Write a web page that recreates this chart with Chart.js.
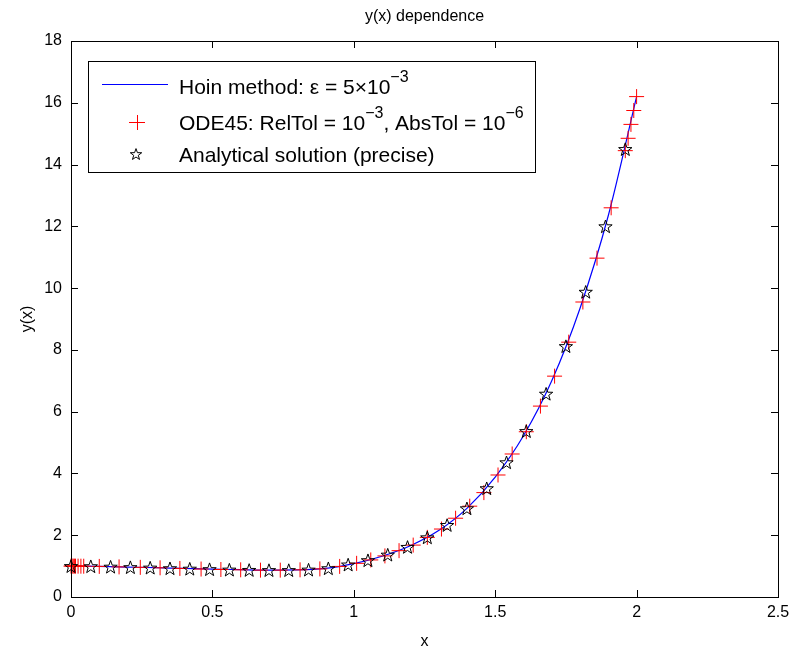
<!DOCTYPE html>
<html>
<head>
<meta charset="utf-8">
<script src="https://cdn.jsdelivr.net/npm/chart.js@4.4.0/dist/chart.umd.min.js"></script>
<style>body{margin:0;background:#fff}</style>
</head>
<body>
<canvas id="myChart" width="796" height="655"></canvas>
<script>
var titleText = 'y(x) dependence';
var xTicks = [0, 0.5, 1, 1.5, 2, 2.5];
var yTicks = [0, 2, 4, 6, 8, 10, 12, 14, 16, 18];

// Hoin method (solid blue line)
var hoinX = [0, 0.1, 0.2, 0.3, 0.4, 0.5, 0.6, 0.7, 0.8, 0.9, 1.0, 1.1, 1.2, 1.3, 1.4, 1.5, 1.6, 1.7, 1.8, 1.9, 2.0];
var hoinY = [1.0, 0.99, 0.97, 0.95, 0.925, 0.905, 0.885, 0.87, 0.875, 0.925, 1.08, 1.32, 1.66, 2.15, 2.87, 3.88, 5.22, 7.0, 9.35, 12.35, 16.2];

// ODE45 output (red plus)
var odeX = [0, 0.004, 0.008, 0.012, 0.016, 0.025, 0.035, 0.045, 0.1, 0.17, 0.245, 0.315, 0.385, 0.46, 0.53, 0.6, 0.67, 0.74, 0.81, 0.88, 0.95,
            1.01, 1.06, 1.11, 1.16, 1.21, 1.26, 1.31, 1.36, 1.41, 1.46, 1.51, 1.56, 1.61, 1.66, 1.71, 1.76, 1.81, 1.86, 1.91, 1.96, 1.97, 1.98, 1.99, 2.0];
var odeY = [1.0, 1.0, 1.0, 1.0, 0.999, 0.999, 0.998, 0.997, 0.99, 0.975, 0.96, 0.945, 0.925, 0.905, 0.89, 0.88, 0.87, 0.87, 0.88, 0.91, 0.99,
            1.09, 1.2, 1.33, 1.5, 1.68, 1.93, 2.2, 2.55, 2.94, 3.38, 3.95, 4.63, 5.35, 6.18, 7.15, 8.25, 9.55, 10.97, 12.6, 14.45, 14.85, 15.3, 15.75, 16.2];

// analytical solution (black pentagram)
var starX = [0, 0.07, 0.14, 0.21, 0.28, 0.35, 0.42, 0.49, 0.56, 0.63, 0.7, 0.77, 0.84, 0.91, 0.98,
             1.05, 1.12, 1.19, 1.26, 1.33, 1.4, 1.47, 1.54, 1.61, 1.68, 1.75, 1.82, 1.89, 1.96];
var starY = [1.0, 0.995, 0.98, 0.965, 0.95, 0.93, 0.915, 0.9, 0.885, 0.875, 0.87, 0.87, 0.885, 0.93, 1.05,
             1.19, 1.37, 1.62, 1.93, 2.33, 2.87, 3.52, 4.36, 5.37, 6.58, 8.12, 9.88, 12.0, 14.5];

function pts(xs, ys) { return xs.map(function (v, i) { return {x: v, y: ys[i]}; }); }

var FONT = "'Liberation Sans', Arial, sans-serif";

function pentagram(ctx, cx, cy, R) {
    cy += R * 0.1;
    ctx.beginPath();
    for (var i = 0; i < 10; i++) {
        var r = i % 2 ? R * 0.4 : R;
        var a = -Math.PI / 2 + i * Math.PI / 5;
        ctx.lineTo(cx + r * Math.cos(a), cy + r * Math.sin(a));
    }
    ctx.closePath();
    ctx.stroke();
}

function drawRich(ctx, parts, x, y) {
    parts.forEach(function (p) {
        if (p.sup) {
            ctx.font = '16px ' + FONT;
            ctx.fillText(p.t, x, y - 12);
        } else {
            ctx.font = '21px ' + FONT;
            ctx.fillText(p.t, x, y);
        }
        x += ctx.measureText(p.t).width;
    });
}

var frame = {
    id: 'frame',
    afterDatasetsDraw: function (chart) {
        var ctx = chart.ctx, a = chart.chartArea, xs = chart.scales.x, ys = chart.scales.y;
        ctx.save();
        // stars of the analytical solution, at the positions the scales give
        ctx.strokeStyle = '#000';
        ctx.lineWidth = 1;
        chart.getDatasetMeta(0).data.forEach(function (el) { pentagram(ctx, el.x, el.y, 7); });

        ctx.beginPath();
        xTicks.forEach(function (v) {
            var p = Math.round(xs.getPixelForValue(v)) + 0.5;
            ctx.moveTo(p, a.bottom); ctx.lineTo(p, a.bottom - 7);
            ctx.moveTo(p, a.top); ctx.lineTo(p, a.top + 7);
        });
        yTicks.forEach(function (v) {
            var p = Math.round(ys.getPixelForValue(v)) + 0.5;
            ctx.moveTo(a.left, p); ctx.lineTo(a.left + 7, p);
            ctx.moveTo(a.right, p); ctx.lineTo(a.right - 7, p);
        });
        ctx.stroke();
        ctx.strokeRect(Math.round(a.left) + 0.5, Math.round(a.top) + 0.5, Math.round(a.right - a.left), Math.round(a.bottom - a.top));

        // title centred over the axes box
        ctx.fillStyle = '#000';
        ctx.font = '16px ' + FONT;
        ctx.textAlign = 'center';
        ctx.textBaseline = 'middle';
        ctx.fillText(titleText, (a.left + a.right) / 2, 17);
        ctx.restore();
    },
    afterDraw: function (chart) {
        var ctx = chart.ctx;
        ctx.save();
        ctx.fillStyle = '#fff';
        ctx.fillRect(88, 61, 447, 111);
        ctx.strokeStyle = '#000';
        ctx.lineWidth = 1;
        ctx.strokeRect(88.5, 61.5, 447, 111);
        ctx.strokeStyle = 'rgb(0,0,255)';
        ctx.beginPath(); ctx.moveTo(102, 84.5); ctx.lineTo(168, 84.5); ctx.stroke();
        ctx.strokeStyle = 'rgb(255,0,0)';
        ctx.beginPath();
        ctx.moveTo(129, 122.5); ctx.lineTo(145, 122.5);
        ctx.moveTo(137.5, 115); ctx.lineTo(137.5, 130);
        ctx.stroke();
        ctx.strokeStyle = '#000';
        pentagram(ctx, 136, 154, 6);
        ctx.fillStyle = '#000';
        ctx.textBaseline = 'alphabetic';
        drawRich(ctx, [{t: 'Hoin method: \u03b5 = 5\u00d710'}, {t: '\u22123', sup: true}], 179, 94);
        drawRich(ctx, [{t: 'ODE45: RelTol = 10'}, {t: '\u22123', sup: true}, {t: ', AbsTol = 10'}, {t: '\u22126', sup: true}], 179, 130);
        drawRich(ctx, [{t: 'Analytical solution (precise)'}], 179, 162);
        ctx.restore();
    }
};

new Chart(document.getElementById('myChart').getContext('2d'), {
    type: 'scatter',
    data: {
        datasets: [{
            label: 'Analytical solution (precise)',
            data: pts(starX, starY),
            pointRadius: 0,
            clip: false,
            order: 0
        }, {
            label: 'ODE45',
            data: pts(odeX, odeY),
            pointStyle: 'cross',
            pointRadius: 7.5,
            borderColor: 'rgb(255,0,0)',
            borderWidth: 1,
            clip: false,
            order: 1
        }, {
            label: 'Hoin method',
            data: pts(hoinX, hoinY),
            showLine: true,
            pointRadius: 0,
            borderColor: 'rgb(0,0,255)',
            borderWidth: 1.2,
            cubicInterpolationMode: 'monotone',
            order: 2
        }]
    },
    options: {
        responsive: false,
        animation: false,
        layout: {padding: {left: 0, right: 18, top: 41, bottom: 0}},
        plugins: {
            legend: {display: false},
            tooltip: {enabled: false},
            title: {display: false}
        },
        scales: {
            x: {
                type: 'linear',
                min: 0, max: 2.5,
                grid: {display: false, drawTicks: false},
                border: {display: false},
                afterBuildTicks: function (s) { s.ticks = xTicks.map(function (v) { return {value: v}; }); },
                afterFit: function (s) { s.height = 58; },
                ticks: {color: '#000', padding: 6, font: {family: FONT, size: 16}, callback: function (v) { return String(v); }},
                title: {display: true, text: 'x', color: '#000', font: {family: FONT, size: 16}, padding: {top: 0, bottom: 4}}
            },
            y: {
                type: 'linear',
                min: 0, max: 18,
                grid: {display: false, drawTicks: false},
                border: {display: false},
                afterBuildTicks: function (s) { s.ticks = yTicks.map(function (v) { return {value: v}; }); },
                afterFit: function (s) { s.width = 71; },
                ticks: {color: '#000', padding: 9, font: {family: FONT, size: 16}, callback: function (v) { return String(v); }},
                title: {display: true, text: 'y(x)', color: '#000', font: {family: FONT, size: 16}, padding: {top: 18, bottom: 0}}
            }
        }
    },
    plugins: [frame]
});
</script>
</body>
</html>
